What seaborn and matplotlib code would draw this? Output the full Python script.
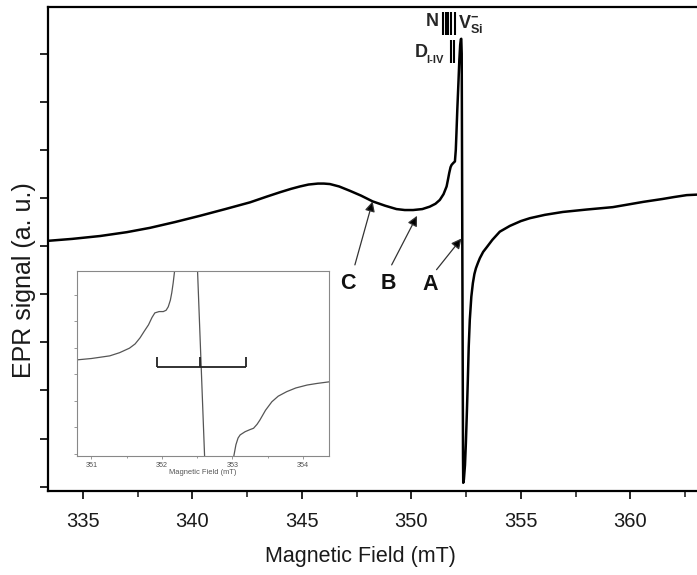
import matplotlib
matplotlib.use('Agg')
import matplotlib.pyplot as plt
from matplotlib.ticker import MultipleLocator, NullFormatter
import seaborn as sns

# main EPR spectrum (field in mT, signal in arbitrary units)
field = [333.40, 334.50, 335.78, 337.00, 338.06, 339.20, 340.34, 341.50, 342.63, 343.40,
         344.00, 344.50, 344.91, 345.30, 345.73, 346.00, 346.28, 346.70, 347.19, 347.70,
         348.23, 348.80, 349.32, 349.70, 350.08, 350.50, 350.84, 351.10, 351.30, 351.47,
         351.61, 351.68, 351.73, 351.79, 351.84, 351.92, 351.99, 352.03, 352.06, 352.10,
         352.15, 352.19, 352.23, 352.26, 352.28, 352.30, 352.33, 352.36, 352.37, 352.40,
         352.45, 352.49, 352.54, 352.58, 352.62, 352.67, 352.74, 352.81, 352.88, 352.95,
         353.04, 353.13, 353.28, 353.45, 353.70, 354.04, 354.50, 355.00, 355.41, 356.10,
         356.92, 358.00, 359.20, 359.84, 360.60, 361.48, 362.00, 362.58, 363.04]
signal = [5.11, 5.15, 5.21, 5.29, 5.38, 5.50, 5.63, 5.77, 5.91, 6.03,
          6.12, 6.19, 6.24, 6.28, 6.30, 6.30, 6.29, 6.24, 6.15, 6.05,
          5.93, 5.84, 5.77, 5.75, 5.75, 5.77, 5.82, 5.88, 5.96, 6.08,
          6.24, 6.40, 6.52, 6.64, 6.69, 6.73, 6.76, 7.00, 7.35, 7.85,
          8.39, 8.85, 9.18, 9.30, 9.31, 9.00, 4.71, 0.60, 0.08, 0.15,
          0.45, 0.90, 1.60, 2.22, 2.90, 3.47, 3.95, 4.23, 4.42, 4.54,
          4.65, 4.75, 4.88, 4.98, 5.13, 5.30, 5.42, 5.52, 5.58, 5.65,
          5.71, 5.76, 5.81, 5.86, 5.92, 5.98, 6.02, 6.06, 6.07]

# inset (zoom around the central line)
inset_left_x = [350.80, 351.00, 351.26, 351.40, 351.54, 351.62, 351.69, 351.75, 351.81, 351.86,
                351.90, 351.96, 352.02, 352.06, 352.09, 352.12, 352.14, 352.16, 352.18, 352.20]
inset_left_y = [3.55, 3.60, 3.70, 3.82, 3.99, 4.15, 4.38, 4.63, 4.87, 5.15,
                5.32, 5.37, 5.37, 5.42, 5.55, 5.80, 6.08, 6.45, 6.90, 7.30]
inset_mid_x = [352.50, 352.61]
inset_mid_y = [7.30, -0.40]
inset_right_x = [352.99, 353.02, 353.05, 353.08, 353.11, 353.18, 353.25, 353.30, 353.35, 353.39,
                 353.47, 353.56, 353.65, 353.77, 353.90, 354.06, 354.20, 354.37]
inset_right_y = [-0.40, -0.08, 0.35, 0.60, 0.72, 0.84, 0.92, 0.97, 1.12, 1.28,
                 1.65, 1.97, 2.18, 2.35, 2.49, 2.60, 2.66, 2.72]
bracket_x = [351.93, 352.54, 353.19]

# resonance line markers
n_lines = [351.46, 351.57, 351.69, 351.80]
v_lines = [352.00]
d_lines = [351.83, 351.96]

# arrow labels: (letter, tail, head, text position)
arrows = [('C', (347.42, 4.61), (348.23, 5.93), (347.10, 4.23)),
          ('B', (349.10, 4.61), (350.26, 5.63), (348.97, 4.23)),
          ('A', (351.15, 4.51), (352.29, 5.16), (350.84, 4.21))]

sns.set_style('ticks')
plt.rcParams['font.family'] = ['Liberation Sans', 'DejaVu Sans']
plt.rcParams['mathtext.fontset'] = 'custom'
plt.rcParams['mathtext.bf'] = 'Liberation Sans:bold'
plt.rcParams['mathtext.rm'] = 'Liberation Sans'

fig = plt.figure(figsize=(6.97, 5.75), dpi=100)
ax = fig.add_axes([0.0689, 0.1461, 0.9311, 0.8417])

sns.lineplot(x=field, y=signal, ax=ax, color='black', linewidth=1.8,
             sort=False, estimator=None)

ax.set_xlim(333.4, 363.05)
ax.set_ylim(-0.09, 9.97)
ax.xaxis.set_major_locator(MultipleLocator(5))
ax.xaxis.set_minor_locator(MultipleLocator(2.5))
ax.set_yticks(range(10))
ax.yaxis.set_major_formatter(NullFormatter())
ax.tick_params(axis='both', which='major', direction='out', length=6, width=1.4,
               labelsize=14.5, labelcolor='#1a1a1a', pad=9)
ax.tick_params(axis='x', which='minor', direction='out', length=4, width=1.2)
for side in ['top', 'left', 'bottom']:
    ax.spines[side].set_linewidth(1.6)
    ax.spines[side].set_color('black')
ax.spines['right'].set_visible(False)

ax.set_xlabel('Magnetic Field (mT)', fontsize=15.5, color='#1a1a1a')
ax.set_ylabel('EPR signal (a. u.)', fontsize=18, color='#1a1a1a')
ax.xaxis.set_label_coords(0.482, -0.113)
ax.yaxis.set_label_coords(-0.019, 0.436)

# arrows with letters
for letter, tail, head, pos in arrows:
    ax.annotate('', xy=head, xytext=tail,
                arrowprops=dict(arrowstyle='-|>', color='#333333', lw=0.9,
                                mutation_scale=15, shrinkA=0, shrinkB=0,
                                fc='black'))
    ax.text(pos[0], pos[1], letter, fontsize=15.5, fontweight='bold',
            ha='center', va='center', color='#111111')

# line position bars and labels
ax.vlines(n_lines + v_lines, 9.39, 9.87, color='black', linewidth=1.5)
ax.vlines(d_lines, 8.81, 9.29, color='black', linewidth=1.5)
ax.text(350.96, 9.66, 'N', fontsize=13, fontweight='bold', ha='center', va='center')
ax.text(352.13, 9.62, r'$\mathbf{V}_{\mathbf{Si}}^{\mathbf{-}}$', fontsize=13,
        ha='left', va='center')
ax.text(350.44, 9.02, 'D', fontsize=13, fontweight='bold', ha='center', va='center')
ax.text(350.70, 8.86, 'I-IV', fontsize=8, fontweight='bold', ha='left', va='center')

# inset
axin = fig.add_axes([0.1109, 0.2070, 0.3611, 0.3217])
for xs, ys in [(inset_left_x, inset_left_y), (inset_mid_x, inset_mid_y),
               (inset_right_x, inset_right_y)]:
    sns.lineplot(x=xs, y=ys, ax=axin, color='#555555', linewidth=0.9,
                 sort=False, estimator=None)
axin.hlines(3.27, bracket_x[0], bracket_x[-1], color='#222222', linewidth=1.3)
axin.vlines(bracket_x, 3.27, 3.67, color='#222222', linewidth=1.3)

axin.set_xlim(350.8, 354.37)
axin.set_ylim(-0.075, 6.9)
axin.xaxis.set_major_locator(MultipleLocator(1))
axin.xaxis.set_minor_locator(MultipleLocator(0.5))
axin.set_yticks(range(7))
axin.yaxis.set_major_formatter(NullFormatter())
axin.tick_params(axis='both', which='major', direction='out', length=2.5, width=0.6,
                 color='#888888', labelsize=5.2, labelcolor='#555555', pad=1.5)
axin.tick_params(axis='x', which='minor', direction='out', length=1.5, width=0.6,
                 color='#888888')
for side in axin.spines:
    axin.spines[side].set_color('#888888')
    axin.spines[side].set_linewidth(0.8)
axin.set_xlabel('Magnetic Field (mT)', fontsize=5.4, color='#555555', labelpad=0.5)

plt.savefig('out.png', dpi=100)
